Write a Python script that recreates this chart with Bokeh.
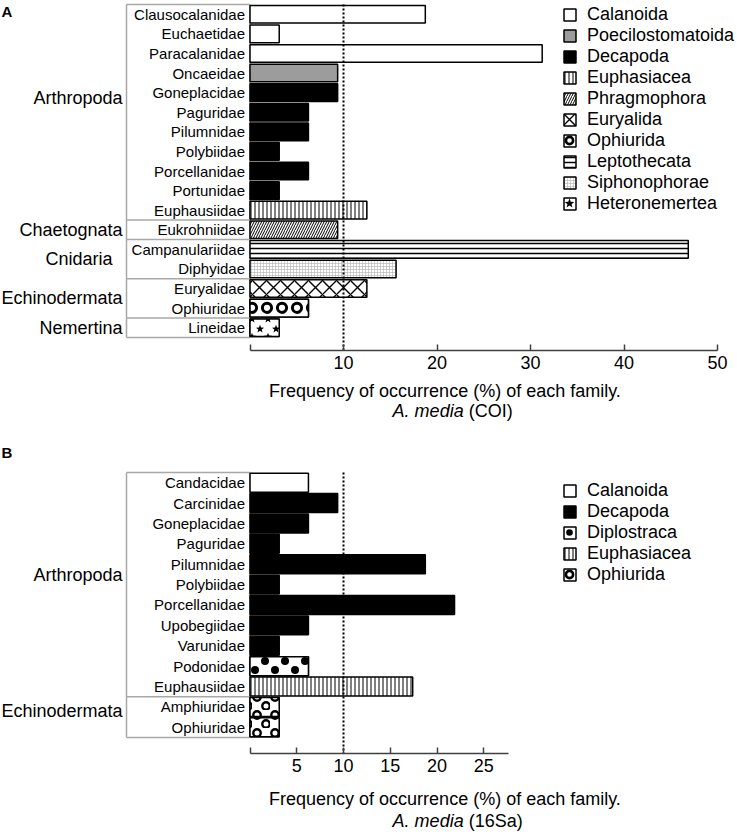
import math
import base64
from bokeh.plotting import figure
from bokeh.models import (Range1d, LinearAxis, FixedTicker, Label, Legend, LegendItem,
                          ColumnDataSource, ImageURLTexture)
from bokeh.layouts import column
from bokeh.embed import file_html
from bokeh.resources import INLINE
from bokeh.core.properties import value

# ---------------- data ----------------
a_families = ["Clausocalanidae", "Euchaetidae", "Paracalanidae", "Oncaeidae", "Goneplacidae",
              "Paguridae", "Pilumnidae", "Polybiidae", "Porcellanidae", "Portunidae",
              "Euphausiidae", "Eukrohniidae", "Campanulariidae", "Diphyidae", "Euryalidae",
              "Ophiuridae", "Lineidae"]
a_values = [18.75, 3.125, 31.25, 9.375, 9.375, 6.25, 6.25, 3.125, 6.25, 3.125,
            12.5, 9.375, 46.875, 15.625, 12.5, 6.25, 3.125]
a_orders = ["Calanoida", "Calanoida", "Calanoida", "Poecilostomatoida", "Decapoda",
            "Decapoda", "Decapoda", "Decapoda", "Decapoda", "Decapoda",
            "Euphasiacea", "Phragmophora", "Leptothecata", "Siphonophorae", "Euryalida",
            "Ophiurida", "Heteronemertea"]
a_phyla = ["Arthropoda"] * 11 + ["Chaetognata"] + ["Cnidaria"] * 2 + ["Echinodermata"] * 2 + ["Nemertina"]
a_legend_orders = ["Calanoida", "Poecilostomatoida", "Decapoda", "Euphasiacea", "Phragmophora",
                   "Euryalida", "Ophiurida", "Leptothecata", "Siphonophorae", "Heteronemertea"]
a_ticks = [10, 20, 30, 40, 50]

b_families = ["Candacidae", "Carcinidae", "Goneplacidae", "Paguridae", "Pilumnidae",
              "Polybiidae", "Porcellanidae", "Upobegiidae", "Varunidae", "Podonidae",
              "Euphausiidae", "Amphiuridae", "Ophiuridae"]
b_values = [6.25, 9.375, 6.25, 3.125, 18.75, 3.125, 21.875, 6.25, 3.125, 6.25,
            17.4, 3.125, 3.125]
b_orders = ["Calanoida"] + ["Decapoda"] * 8 + ["Diplostraca", "Euphasiacea", "Ophiurida", "Ophiurida"]
b_phyla = ["Arthropoda"] * 11 + ["Echinodermata"] * 2
b_legend_orders = ["Calanoida", "Decapoda", "Diplostraca", "Euphasiacea", "Ophiurida"]
b_ticks = [5, 10, 15, 20, 25]

threshold = 10
xlabel = "Frequency of occurrence (%) of each family."
species = "A. media"

# ---------------- layout / style ----------------
FONT = "Liberation Sans"
PXU = 9.35          # px per x unit
ZERO_PX = 249.5     # px from frame left to x = 0
FIG_W = 735
X0 = -ZERO_PX / PXU
X1 = (FIG_W - ZERO_PX) / PXU
BOX_X = (126 - ZERO_PX) / PXU
LEG_X = 562
ROW_H = 21
GLYPH = 15


def star_points(cx, cy, R, r):
    pts = []
    for k in range(10):
        ang = -math.pi / 2 + k * math.pi / 5
        rad = R if k % 2 == 0 else r
        pts.append(f"{cx + rad * math.cos(ang):.2f},{cy + rad * math.sin(ang):.2f}")
    return " ".join(pts)


def star(cx, cy, R=4.3):
    return f'<polygon points="{star_points(cx, cy, R, R * 0.42)}" fill="black"/>'


def ring(cx, cy, r=3.7, sw=2.4):
    return f'<circle cx="{cx}" cy="{cy}" r="{r}" fill="none" stroke="black" stroke-width="{sw}"/>'


def dot(cx, cy, r=4):
    return f'<circle cx="{cx}" cy="{cy}" r="{r}" fill="black"/>'


def texture(body, w, h):
    svg = (f'<svg xmlns="http://www.w3.org/2000/svg" width="{w}" height="{h}">'
           f'<rect width="{w}" height="{h}" fill="white"/>' + body + '</svg>')
    return ImageURLTexture(url="data:image/svg+xml;base64," + base64.b64encode(svg.encode()).decode())


# bar textures
star_tex = texture(star(4, 5) + star(12, 13), 16, 18)
dot_tex = texture(dot(5, 5) + dot(15, 14), 20, 18)
ring_tex_b = texture(ring(5, 5) + ring(14, 14), 18, 18)
# single row of rings, aligned to panel A's Ophiuridae row
ring_tex_a = texture(ring(12, 27.8, 4.6, 3) + ring(-3, 27.8, 4.6, 3), 15, 40)


def legend_tex(sym):
    # one symbol centred in the legend swatch (pattern anchored at swatch corner)
    return texture(sym(GLYPH / 2, GLYPH / 2), 30, 30)


BASE = {
    "Calanoida": dict(fill_color="white"),
    "Poecilostomatoida": dict(fill_color="#9c9c9c"),
    "Decapoda": dict(fill_color="black"),
    "Euphasiacea": dict(fill_color="white", hatch_pattern="|", hatch_scale=4, hatch_weight=1.0, hatch_color="black"),
    "Phragmophora": dict(fill_color="white", hatch_pattern="/", hatch_scale=5, hatch_weight=1.0, hatch_color="black"),
    "Euryalida": dict(fill_color="white", hatch_pattern="x", hatch_scale=14, hatch_weight=1.4, hatch_color="black"),
    "Leptothecata": dict(fill_color="white", hatch_pattern="-", hatch_scale=5, hatch_weight=1.5, hatch_color="black"),
    "Siphonophorae": dict(fill_color="white", hatch_pattern="+", hatch_scale=3, hatch_weight=0.6, hatch_color="#b0b0b0"),
}


def tex_style(t):
    return dict(fill_color="white", hatch_pattern="hp", hatch_extra={"tex": t})


def runs(seq):
    out = []
    start = 0
    for i in range(1, len(seq) + 1):
        if i == len(seq) or seq[i] != seq[start]:
            out.append((seq[start], start, i - 1))
            start = i
    return out


def panel(letter, families, values, orders, phyla, legend_orders, ticks, axis_max,
          u, top_pad, bottom_pad, frame_h, mb, bar_h, label_shift, label_xoff,
          legend_top, letter_dy, styles, legend_styles):
    n = len(families)
    y_end = 0.5 + top_pad / u
    y_start = -(n - 1) - 0.5 - bottom_pad / u
    p = figure(width=FIG_W, height=frame_h + mb, x_range=Range1d(X0, X1),
               y_range=Range1d(y_start, y_end), x_axis_location=None, y_axis_location=None,
               toolbar_location=None, output_backend="svg", min_border_left=0,
               min_border_right=0, min_border_top=0, min_border_bottom=mb)
    p.outline_line_color = None
    p.grid.grid_line_color = None
    p.background_fill_color = "white"

    ys = [-i for i in range(n)]

    # group boxes
    edges = set()
    groups = runs(phyla)
    for name, s, e in groups:
        edges.add(-s + 0.5)
        edges.add(-e - 0.5)
    hy = sorted(edges)
    p.segment(x0=[BOX_X] * len(hy), x1=[0] * len(hy), y0=hy, y1=hy,
              line_color="#a8a8a8", line_width=1.5)
    p.segment(x0=[BOX_X, 0], x1=[BOX_X, 0], y0=[0.5, 0.5], y1=[-(n - 1) - 0.5] * 2,
              line_color="#a8a8a8", line_width=1.5)

    # bars
    rends = {}
    for o in legend_orders:
        idx = [i for i in range(n) if orders[i] == o]
        src = ColumnDataSource(dict(y=[ys[i] for i in idx], v=[values[i] for i in idx],
                                    hp=["tex"] * len(idx)))
        swatch = None
        if o in legend_styles:
            # drawn first, fully covered by the real bars; supplies the legend swatch
            swatch = p.hbar(y="y", right="v", left=0, height=bar_h, source=src,
                            line_color="black", line_width=1.5, **legend_styles[o])
        r = p.hbar(y="y", right="v", left=0, height=bar_h, source=src,
                   line_color="black", line_width=1.5, **styles[o])
        rends[o] = swatch if swatch is not None else r

    # threshold
    p.segment(x0=[threshold], x1=[threshold], y0=[0.5], y1=[y_start],
              line_color="black", line_width=2, line_dash="2 2")

    # family labels
    p.text(x=[0] * n, y=ys, text=families, x_offset=-5, text_align="right",
           text_baseline="middle", text_font=value(FONT), text_font_size="15px",
           text_color="black")

    # phylum labels
    px, py, pt, po = [], [], [], []
    for name, s, e in groups:
        px.append(BOX_X)
        py.append(-(s + e) / 2 + label_shift.get(name, 0))
        pt.append(name)
        po.append(-4 + label_xoff.get(name, 0))
    p.text(x="x", y="y", text="t", x_offset="o",
           source=ColumnDataSource(dict(x=px, y=py, t=pt, o=po)),
           text_align="right", text_baseline="middle", text_font=value(FONT),
           text_font_size="18px", text_color="black")

    # axis
    ax = LinearAxis(ticker=FixedTicker(ticks=[0] + ticks), bounds=(0, axis_max),
                    major_label_overrides={0: ""}, major_tick_in=6, major_tick_out=0,
                    minor_tick_line_color=None, axis_line_color="#404040",
                    axis_line_width=1.5, major_tick_line_color="#404040",
                    major_tick_line_width=1.5, major_label_text_font=FONT,
                    major_label_text_font_size="18px", major_label_text_color="black",
                    major_label_standoff=5)
    p.add_layout(ax, "below")

    # panel letter
    p.add_layout(Label(x=X0, x_offset=1, y=y_end - letter_dy / u, text=letter,
                       text_align="left", text_baseline="middle", text_font=FONT,
                       text_font_size="15px", text_font_style="bold", text_color="black"))

    # legend
    items = [LegendItem(label=o, renderers=[rends[o]]) for o in legend_orders]
    leg = Legend(items=items, location=(LEG_X, frame_h - legend_top - len(items) * ROW_H),
                 orientation="vertical", border_line_color=None, background_fill_alpha=0,
                 padding=0, margin=0, spacing=0, glyph_width=GLYPH, glyph_height=GLYPH,
                 label_height=ROW_H, label_standoff=10, label_text_font=FONT,
                 label_text_font_size="18px", label_text_color="black")
    p.add_layout(leg)
    return p


def title_fig(gene, h, y1, y2):
    t = figure(width=FIG_W, height=h, x_range=Range1d(X0, X1), y_range=Range1d(h, 0),
               x_axis_location=None, y_axis_location=None, toolbar_location=None,
               output_backend="svg", min_border=0)
    t.outline_line_color = None
    t.grid.grid_line_color = None
    xc = 20.85
    xs = 22.85
    t.text(x=[xc], y=[y1], text=[xlabel], text_align="center", text_baseline="middle",
           text_font=value(FONT), text_font_size="18px", text_color="black")
    t.text(x=[xs], y=[y2], text=[species], text_align="right", text_baseline="middle",
           text_font=value(FONT), text_font_size="18px", text_font_style="italic",
           text_color="black")
    t.text(x=[xs], y=[y2], text=["(" + gene + ")"], x_offset=5, text_align="left",
           text_baseline="middle", text_font=value(FONT), text_font_size="18px",
           text_color="black")
    return t


A_LEG_TOP = 4
B_LEG_TOP = 40

a_styles = dict(BASE)
a_styles["Ophiurida"] = tex_style(ring_tex_a)
a_styles["Heteronemertea"] = tex_style(star_tex)
a_leg_styles = {
    "Ophiurida": tex_style(legend_tex(lambda x, y: ring(x, y, 3.6, 2.6))),
    "Heteronemertea": tex_style(legend_tex(lambda x, y: star(x, y, 5))),
}
b_styles = dict(BASE)
b_styles["Ophiurida"] = tex_style(ring_tex_b)
b_styles["Diplostraca"] = tex_style(dot_tex)
b_leg_styles = {
    "Ophiurida": tex_style(legend_tex(lambda x, y: ring(x, y, 3.6, 2.6))),
    "Diplostraca": tex_style(legend_tex(lambda x, y: dot(x, y, 3.3))),
}

pa = panel("A", a_families, a_values, a_orders, a_phyla, a_legend_orders, a_ticks, 50,
           u=19.6, top_pad=4, bottom_pad=13, frame_h=350, mb=30, bar_h=0.9,
           label_shift={"Arthropoda": 0.75}, label_xoff={"Cnidaria": -10},
           legend_top=A_LEG_TOP, letter_dy=11, styles=a_styles, legend_styles=a_leg_styles)
ta = title_fig("COI", 60, 10, 30)
pb = panel("B", b_families, b_values, b_orders, b_phyla, b_legend_orders, b_ticks, 27.6,
           u=20.4, top_pad=32, bottom_pad=16, frame_h=313, mb=30, bar_h=0.93,
           label_shift={"Arthropoda": 0.45, "Echinodermata": 0.3}, label_xoff={},
           legend_top=B_LEG_TOP, letter_dy=12, styles=b_styles, legend_styles=b_leg_styles)
tb = title_fig("16Sa", 48, 15, 37)

layout = column(pa, ta, pb, tb, spacing=0)
open("out.html", "w").write(file_html(layout, INLINE))
